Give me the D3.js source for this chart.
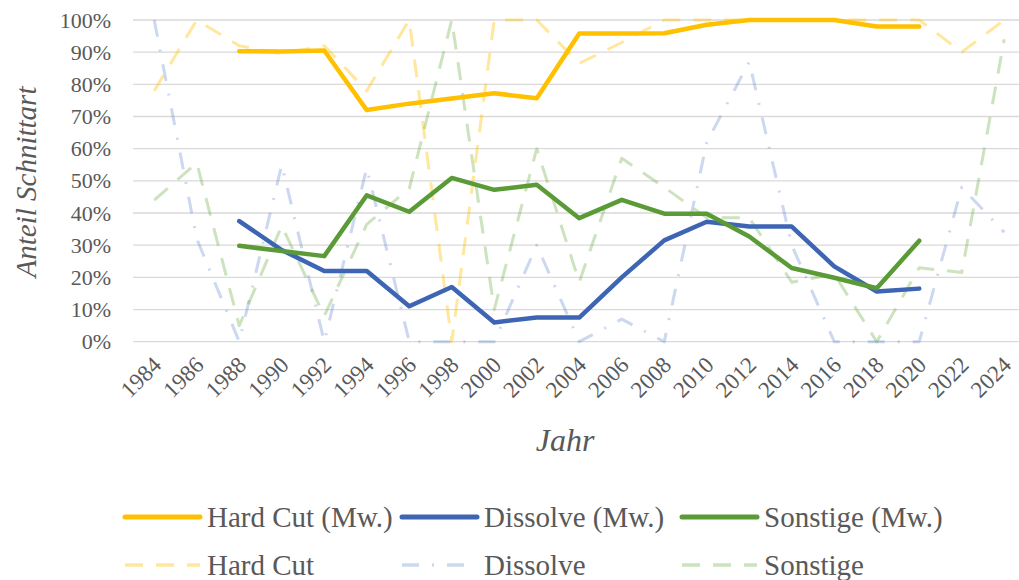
<!DOCTYPE html>
<html><head><meta charset="utf-8">
<script src="https://cdn.jsdelivr.net/npm/d3@7"></script>
<style>
html,body{margin:0;padding:0;background:#fff;}
text{font-family:"Liberation Serif","DejaVu Serif",serif;fill:#595959;}
</style></head>
<body><svg id="c" width="1019" height="580"></svg>
<script>
const years = ["1984","1986","1988","1990","1992","1994","1996","1998","2000","2002","2004","2006","2008","2010","2012","2014","2016","2018","2020","2022","2024"];
const yTicks = [0,10,20,30,40,50,60,70,80,90,100];
// moving averages (Mw.), 1984/1986/2022/2024 empty
const hardCutMw  = [null,null,90.3,90.2,90.5,72,74,75.6,77.2,75.7,95.8,95.8,95.9,98.5,100,100,100,98,98,null,null];
const dissolveMw = [null,null,37.5,28.5,22,22,11,17,6,7.5,7.5,20,31.5,37.3,35.8,35.8,23.4,15.6,16.5,null,null];
const sonstigeMw = [null,null,29.8,28.2,26.6,45.5,40.4,50.9,47.2,48.8,38.4,44.1,39.8,39.8,32.7,22.9,19.9,16.6,31.4,null,null];
// raw values
const hardCut  = [78,100,92,89.5,92,78,100,0,100,100,86.5,93,100,100,100,100,100,100,100,90,100];
const dissolve = [100,32,0,55,0,54,0,0,0,30,0,7,0,62,87,30,0,0,0,48,34];
const sonstige = [44,55.6,5,36,8,36.5,47.6,100,10,60,18.5,57,48,38.5,38.5,18.5,21,0,23,21.5,94];

const svg = d3.select("#c");
const left = 133, bandW = 42.5;
const x = d3.scaleBand().domain(years).range([left, left + bandW*years.length]);
const y = d3.scaleLinear().domain([0,100]).range([341.7, 20]);
const cx = d => x(d) + x.bandwidth()/2;

// gridlines
svg.append("g").selectAll("line").data(yTicks).join("line")
  .attr("x1", left).attr("x2", left + bandW*years.length)
  .attr("y1", d=>y(d)).attr("y2", d=>y(d))
  .attr("stroke", "#d9d9d9").attr("stroke-width", 1.3);

// y axis labels
const yAxis = d3.axisLeft(y).tickValues(yTicks).tickFormat(d=>d+"%").tickSize(0).tickPadding(0);
const ga = svg.append("g").attr("transform","translate(111,0)").call(yAxis);
ga.select(".domain").remove();
ga.selectAll("text").attr("font-size",22).attr("font-family","Liberation Serif").attr("fill","#595959");

// x axis labels
const xAxis = d3.axisBottom(x).tickSize(0).tickPadding(0);
const gx = svg.append("g").call(xAxis);
gx.select(".domain").remove();
gx.selectAll(".tick").attr("transform", d=>`translate(${cx(d)-3},355)`);
gx.selectAll("text").attr("font-size",23).attr("font-family","Liberation Serif").attr("fill","#595959")
  .attr("text-anchor","end").attr("dy","0.7em").attr("y",0).attr("transform","rotate(-45)");

const line = d3.line().defined(d=>d.v!==null).x(d=>cx(d.k)).y(d=>y(d.v));
const mk = arr => years.map((k,i)=>({k, v:arr[i]}));

const series = [
  {name:"Hard Cut", data:hardCut, color:"rgba(255,192,0,0.38)", dash:"18,13", w:3},
  {name:"Dissolve", data:dissolve, color:"rgba(68,114,196,0.28)", dash:"17,13,2,13", w:3},
  {name:"Sonstige", data:sonstige, color:"rgba(112,173,71,0.35)", dash:"18,13", w:3},
];
const seriesMw = [
  {name:"Hard Cut (Mw.)", data:hardCutMw, color:"#FFC000"},
  {name:"Dissolve (Mw.)", data:dissolveMw, color:"#3D65B4"},
  {name:"Sonstige (Mw.)", data:sonstigeMw, color:"#5B9B37"},
];
series.forEach(s=>{
  svg.append("path").datum(mk(s.data)).attr("d",line).attr("fill","none")
    .attr("stroke",s.color).attr("stroke-width",s.w).attr("stroke-dasharray",s.dash)
    .attr("stroke-linejoin","round");
});
seriesMw.forEach(s=>{
  svg.append("path").datum(mk(s.data)).attr("d",line).attr("fill","none")
    .attr("stroke",s.color).attr("stroke-width",4.5).attr("stroke-linejoin","round").attr("stroke-linecap","round");
});

// axis titles
svg.append("text").attr("transform","translate(26,182) rotate(-90)").attr("text-anchor","middle")
  .attr("dy","0.35em").attr("font-size",29).attr("font-style","italic").text("Anteil Schnittart");
svg.append("text").attr("x",565).attr("y",440).attr("text-anchor","middle").attr("dy","0.35em")
  .attr("font-size",32).attr("font-style","italic").text("Jahr");

// legend
const legX = [125, 402, 682];
const leg = svg.append("g");
seriesMw.forEach((s,i)=>{
  leg.append("line").attr("x1",legX[i]).attr("x2",legX[i]+75).attr("y1",517).attr("y2",517)
    .attr("stroke",s.color).attr("stroke-width",5).attr("stroke-linecap","round");
  leg.append("text").attr("x",legX[i]+82).attr("y",517).attr("dy","0.35em").attr("font-size",29).text(s.name);
});
series.forEach((s,i)=>{
  leg.append("line").attr("x1",legX[i]).attr("x2",legX[i]+75).attr("y1",565).attr("y2",565)
    .attr("stroke",s.color).attr("stroke-width",3.5).attr("stroke-dasharray",s.dash);
  leg.append("text").attr("x",legX[i]+82).attr("y",565).attr("dy","0.35em").attr("font-size",29).text(s.name);
});
</script></body></html>
